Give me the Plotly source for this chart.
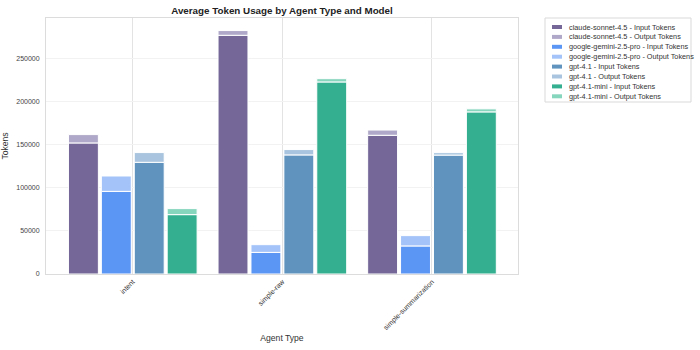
import plotly.graph_objects as go

agents = ['intent', 'simple-raw', 'simple-summarization']
models = ['claude-sonnet-4.5', 'google-gemini-2.5-pro', 'gpt-4.1', 'gpt-4.1-mini']

input_claude = [152300, 277400, 161200]
input_gemini = [96000, 25100, 32600]
input_gpt41 = [129800, 138400, 138200]
input_gpt41mini = [69000, 223200, 188400]

output_claude = [9700, 5500, 6100]
output_gemini = [17900, 9000, 12000]
output_gpt41 = [11300, 6200, 2800]
output_gpt41mini = [7000, 3800, 3500]

input_colors = ['#756899', '#5c96f5', '#6094be', '#34af8f']
output_colors = ['#b0a8c8', '#a4c4f9', '#a8c4de', '#86d5bd']

inputs = [input_claude, input_gemini, input_gpt41, input_gpt41mini]
outputs = [output_claude, output_gemini, output_gpt41, output_gpt41mini]

FONT = 'Liberation Sans, Arial, sans-serif'
pitch = 0.22
bar_w = 0.2
n = len(models)

fig = go.Figure()
for j, m in enumerate(models):
    xs = [i + (j - (n - 1) / 2) * pitch for i in range(len(agents))]
    fig.add_trace(go.Bar(
        x=xs, y=inputs[j], width=bar_w, name=f'{m} - Input Tokens',
        marker=dict(color=input_colors[j], line=dict(color='white', width=1)),
        showlegend=False))
    fig.add_trace(go.Bar(
        x=xs, y=outputs[j], base=inputs[j], width=bar_w, name=f'{m} - Output Tokens',
        marker=dict(color=output_colors[j], line=dict(color='white', width=1)),
        showlegend=False))

W, H = 700, 350
ml, mr, mt, mb = 46, 182, 18, 76
pw, ph = W - ml - mr, H - mt - mb

def px2paper(x, y):
    return (x - ml) / pw, (H - mb - y) / ph

# custom compact legend (built from the trace names / colors)
shapes = []
annotations = []
bx0, by0 = px2paper(545, 18)
bx1, by1 = px2paper(691, 102)
shapes.append(dict(type='rect', xref='paper', yref='paper', x0=bx0, y0=by1, x1=bx1, y1=by0,
                   line=dict(color='#d9d9d9', width=1), fillcolor='white', layer='above'))
labels = []
cols = []
for j, m in enumerate(models):
    labels += [f'{m} - Input Tokens', f'{m} - Output Tokens']
    cols += [input_colors[j], output_colors[j]]
for k, (lab, c) in enumerate(zip(labels, cols)):
    yc = 27 + k * 9.9
    sx0, sy0 = px2paper(552, yc - 2)
    sx1, sy1 = px2paper(562, yc + 2)
    shapes.append(dict(type='rect', xref='paper', yref='paper', x0=sx0, y0=sy1, x1=sx1, y1=sy0,
                       line=dict(width=0), fillcolor=c, layer='above'))
    tx, ty = px2paper(567, yc)
    annotations.append(dict(xref='paper', yref='paper', x=tx, y=ty, text=lab, showarrow=False,
                            xanchor='left', yanchor='middle',
                            font=dict(family=FONT, size=7.3, color='#333333')))

fig.update_layout(
    width=W, height=H,
    margin=dict(l=ml, r=mr, t=mt, b=mb, autoexpand=False),
    paper_bgcolor='white', plot_bgcolor='white',
    barmode='overlay',
    font=dict(family=FONT, color='#333333'),
    title=dict(text='<b>Average Token Usage by Agent Type and Model</b>',
               x=(ml + pw / 2) / W, xanchor='center', y=1 - 11 / H, yanchor='middle',
               font=dict(family=FONT, size=9.8, color='#222222')),
    shapes=shapes, annotations=annotations,
    showlegend=False,
)
fig.update_xaxes(
    range=[-0.58, 2.575], tickmode='array', tickvals=list(range(len(agents))), ticktext=agents,
    tickangle=-45, tickfont=dict(size=7, color='#333333'), automargin=False,
    showgrid=True, gridcolor='#e3e3e3', gridwidth=1,
    showline=True, linecolor='#dcdcdc', linewidth=1, mirror=True, zeroline=False,
    title=dict(text='Agent Type', font=dict(size=8.6, color='#333333'), standoff=4),
)
fig.update_yaxes(
    range=[0, 297500], tickmode='array', tickvals=[0, 50000, 100000, 150000, 200000, 250000],
    tickformat='d', tickfont=dict(size=7, color='#444444'), ticklabelstandoff=4, automargin=False,
    showgrid=True, gridcolor='#f2f2f2', gridwidth=1,
    showline=True, linecolor='#dcdcdc', linewidth=1, mirror=True, zeroline=False,
    title=dict(text='Tokens', font=dict(size=8.6, color='#333333'), standoff=6),
)

fig.write_html('out.html')
